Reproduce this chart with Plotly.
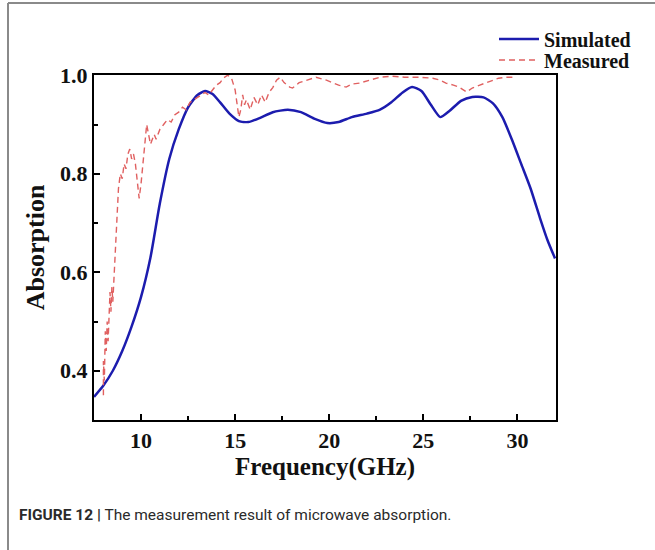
import plotly.graph_objects as go

# Simulated absorption (GHz, absorption)
sim_x = [7.5, 8.0, 8.5, 9.0, 9.5, 10.0, 10.5, 11.0, 11.5, 12.0, 12.5, 13.0, 13.4, 13.8,
         14.2, 14.7, 15.2, 15.7, 16.3, 17.0, 17.8, 18.5, 19.2, 19.9, 20.5, 21.2, 22.0,
         22.7, 23.3, 23.9, 24.4, 24.9, 25.4, 25.9, 26.4, 27.0, 27.6, 28.2, 28.7, 29.2,
         29.7, 30.2, 30.7, 31.2, 31.6, 32.0]
sim_y = [0.347, 0.37, 0.40, 0.44, 0.49, 0.55, 0.63, 0.74, 0.83, 0.89, 0.935, 0.96,
         0.968, 0.962, 0.945, 0.922, 0.907, 0.905, 0.913, 0.925, 0.93, 0.925, 0.912,
         0.903, 0.905, 0.915, 0.922, 0.93, 0.945, 0.965, 0.976, 0.968, 0.94, 0.915,
         0.928, 0.948, 0.956, 0.955, 0.943, 0.915, 0.87, 0.82, 0.77, 0.71, 0.665, 0.628]

# Measured absorption
meas_x = [8.0, 8.0, 8.05, 8.1, 8.15, 8.2, 8.25, 8.3, 8.35, 8.4, 8.45, 8.5, 8.55, 8.6,
          8.65, 8.7, 8.75, 8.8, 8.9, 9.0, 9.1, 9.2, 9.3, 9.4, 9.5, 9.6, 9.7, 9.8, 9.9,
          10.0, 10.1, 10.2, 10.3, 10.4, 10.5, 10.6, 10.7, 10.8, 11.0, 11.2, 11.4, 11.6,
          11.8, 12.0, 12.2, 12.4, 12.6, 12.8, 13.0, 13.2, 13.4, 13.6, 13.8, 14.0, 14.2,
          14.4, 14.6, 14.8, 15.0, 15.1, 15.2, 15.3, 15.4, 15.5, 15.6, 15.8, 16.0, 16.2,
          16.4, 16.6, 16.8, 17.0, 17.2, 17.4, 17.6, 17.9, 18.05, 18.4, 18.8, 19.3, 19.85,
          20.2, 20.5, 20.9, 21.2, 21.6, 22.2, 22.7, 23.35, 24.0, 24.8, 25.5, 25.9, 26.2,
          26.6, 26.9, 27.3, 27.6, 28.0, 28.3, 28.7, 29.0, 29.4, 29.9]
meas_y = [0.35, 0.42, 0.38, 0.48, 0.44, 0.50, 0.46, 0.53, 0.56, 0.52, 0.57, 0.54, 0.58,
          0.61, 0.66, 0.70, 0.74, 0.77, 0.80, 0.79, 0.82, 0.81, 0.84, 0.85, 0.83, 0.84,
          0.82, 0.79, 0.75, 0.78, 0.82, 0.87, 0.90, 0.88, 0.86, 0.87, 0.88, 0.87, 0.89,
          0.90, 0.91, 0.905, 0.92, 0.925, 0.935, 0.93, 0.945, 0.95, 0.955, 0.96, 0.965,
          0.96, 0.97, 0.98, 0.985, 0.995, 1.0, 0.995, 0.97, 0.94, 0.915, 0.93, 0.96, 0.94,
          0.95, 0.93, 0.955, 0.94, 0.96, 0.945, 0.965, 0.975, 0.99, 0.996, 0.985, 0.976,
          0.974, 0.985, 0.99, 0.996, 0.99, 0.985, 0.98, 0.976, 0.982, 0.984, 0.99, 0.996,
          0.998, 0.996, 0.996, 0.994, 0.99, 0.984, 0.98, 0.976, 0.966, 0.974, 0.98, 0.984,
          0.99, 0.994, 0.996, 0.996]

x_ticks = [10, 15, 20, 25, 30]
y_ticks = [0.4, 0.6, 0.8, 1.0]

SERIF = "Liberation Serif, Times New Roman, serif"

# Plot area pixel geometry
W, H = 655, 550
L, R, T, B = 94, 556, 75, 420
pw, ph = R - L, B - T

def px(xp):
    return (xp - L) / pw

def py(yp):
    return (B - yp) / ph

fig = go.Figure()
fig.add_trace(go.Scatter(x=sim_x, y=sim_y, mode="lines", name="Simulated", legend="legend",
                         line=dict(color="#1c1cae", width=2.5, shape="spline", smoothing=0.6)))
fig.add_trace(go.Scatter(x=meas_x, y=meas_y, mode="lines", name="Measured", legend="legend2",
                         line=dict(color="#e06060", width=1.4, dash="6px,4px")))

axis_common = dict(showline=True, linecolor="black", linewidth=2, mirror=True,
                   ticks="inside", tickcolor="black", tickwidth=2, ticklen=6,
                   showgrid=False, zeroline=False,
                   tickfont=dict(family=SERIF, size=22, color="#111", weight="bold"))

fig.update_xaxes(range=[7.5, 32.05], tickvals=x_ticks,
                 minor=dict(ticks="inside", ticklen=4, tickwidth=2, tickcolor="black",
                            tickvals=[12.5, 17.5, 22.5, 27.5]),
                 title=dict(text="<b>Frequency(GHz)</b>", font=dict(family=SERIF, size=25, color="#111"),
                            standoff=2),
                 **axis_common)
fig.update_yaxes(range=[0.3, 1.0005], tickvals=y_ticks, ticktext=["0.4", "0.6", "0.8", "1.0"],
                 minor=dict(ticks="inside", ticklen=4, tickwidth=2, tickcolor="black",
                            tickvals=[0.5, 0.7, 0.9]),
                 title=dict(text="<b>Absorption</b>", font=dict(family=SERIF, size=26, color="#111"),
                            standoff=8),
                 **axis_common)

# Outer frame (left and top gray lines)
frame_color = "#8a8a8a"
fig.add_shape(type="line", xref="paper", yref="paper", x0=px(8), x1=px(8), y0=py(3), y1=py(551),
              line=dict(color=frame_color, width=2))
fig.add_shape(type="line", xref="paper", yref="paper", x0=px(8), x1=px(656), y0=py(3), y1=py(3),
              line=dict(color=frame_color, width=2))

# Caption
fig.add_annotation(xref="paper", yref="paper", x=px(17), y=py(515), xanchor="left", yanchor="middle",
                   showarrow=False,
                   text="<b>FIGURE 12 |</b> The measurement result of microwave absorption.",
                   font=dict(family="Roboto, Liberation Sans, Arial, sans-serif",
                             size=15.5, color="#2a2a2a"))

legend_font = dict(family=SERIF, size=20, color="#111", weight="bold")
fig.update_layout(
    width=W, height=H,
    margin=dict(l=L, r=W - R, t=T, b=H - B),
    paper_bgcolor="white", plot_bgcolor="white",
    showlegend=True,
    legend=dict(x=px(494), y=py(39), xanchor="left", yanchor="middle", font=legend_font,
                bgcolor="rgba(0,0,0,0)", itemwidth=40),
    legend2=dict(x=px(494), y=py(60), xanchor="left", yanchor="middle", font=legend_font,
                 bgcolor="rgba(0,0,0,0)", itemwidth=40),
)

fig.write_html("out.html")
